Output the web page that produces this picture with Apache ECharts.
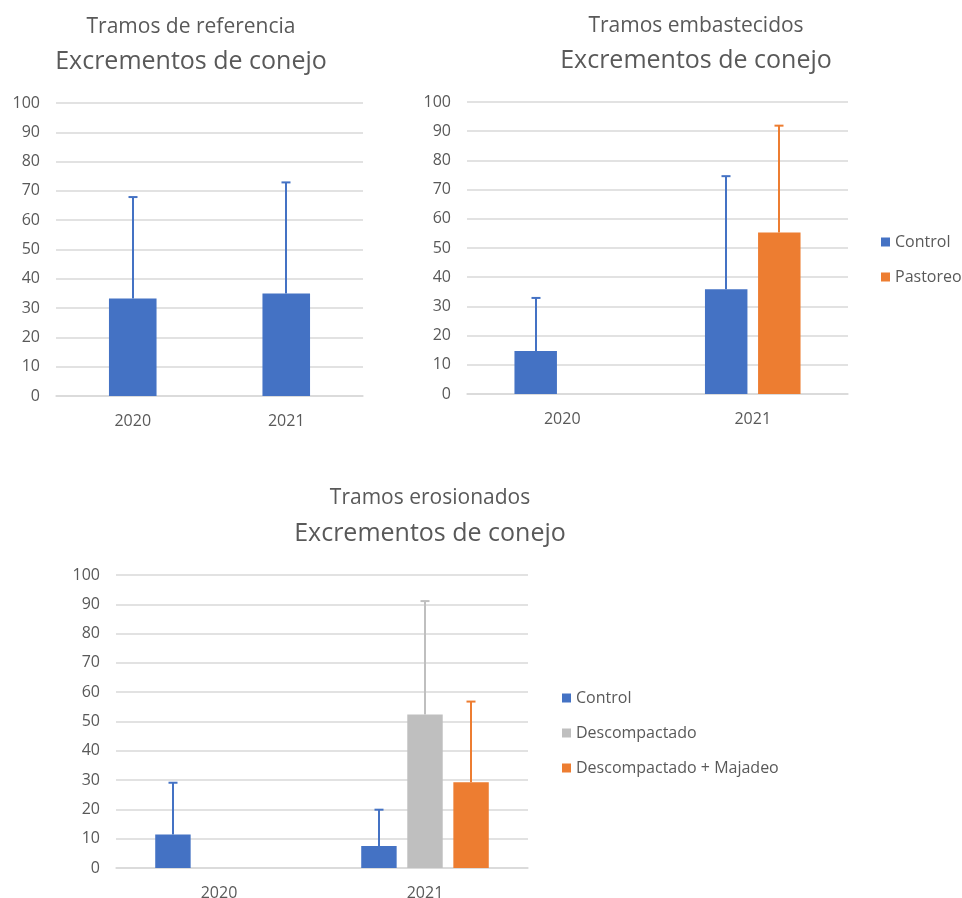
<!DOCTYPE html>
<html>
<head>
    <meta charset="utf-8">
    <title>Excrementos de conejo</title>
    <script src="https://cdn.jsdelivr.net/npm/echarts@6/dist/echarts.min.js"></script>
    <style>
        html, body { margin: 0; padding: 0; background: #fff; }
        #main { width: 962px; height: 898px; }
    </style>
</head>
<body>
<div id="main"></div>
<script type="text/javascript">
    // datos (media y barra de error superior)
    var years = ['2020', '2021'];

    // tramos de referencia
    var refControl = [33.3, 35.0];
    var refControlErr = [34.6, 37.9];

    // tramos embastecidos
    var embControl = [14.7, 35.9];
    var embControlErr = [18.2, 38.7];
    var embPastoreo = [null, 55.3];
    var embPastoreoErr = [null, 36.6];

    // tramos erosionados
    var eroControl = [11.4, 7.5];
    var eroControlErr = [17.7, 12.4];
    var eroDescomp = [null, 52.4];
    var eroDescompErr = [null, 38.7];
    var eroMajadeo = [null, 29.3];
    var eroMajadeoErr = [null, 27.5];

    var yTicks = [0, 10, 20, 30, 40, 50, 60, 70, 80, 90, 100];

    var BLUE = '#4472C4', ORANGE = '#ED7D31', GRAY = '#BFBFBF';
    var TXT = '#595959';
    var FONT = '"Open Sans", "Noto Sans", sans-serif';

    var myChart = echarts.init(document.getElementById('main'));

    function barSeries(name, values, color, idx, width, gap) {
        return {
            name: name,
            type: 'bar',
            xAxisIndex: idx,
            yAxisIndex: idx,
            barWidth: width,
            barGap: gap,
            itemStyle: { color: color },
            data: values.map(function (v) { return v == null ? '-' : v; })
        };
    }

    // barra de error: linea desde la media hasta media+error con remate arriba
    function errSeries(name, values, errs, color, idx, offset) {
        var d = [];
        values.forEach(function (v, i) {
            if (v != null) d.push([i, v, v + errs[i]]);
        });
        return {
            name: name,
            type: 'custom',
            xAxisIndex: idx,
            yAxisIndex: idx,
            z: 3,
            silent: true,
            encode: { x: 0, y: [1, 2] },
            data: d,
            renderItem: function (params, api) {
                var c = api.value(0);
                var lo = api.coord([c, api.value(1)]);
                var hi = api.coord([c, api.value(2)]);
                var band = api.size([1, 0])[0];
                var x = Math.round(lo[0] + offset * band);
                var st = { stroke: color, lineWidth: 2 };
                return {
                    type: 'group',
                    children: [
                        { type: 'line', shape: { x1: x, y1: lo[1], x2: x, y2: hi[1] }, style: st },
                        { type: 'line', shape: { x1: x - 4.5, y1: hi[1], x2: x + 4.5, y2: hi[1] }, style: st }
                    ]
                };
            }
        };
    }

    function xAx(idx) {
        return {
            type: 'category',
            gridIndex: idx,
            data: years,
            axisLine: { lineStyle: { color: '#D9D9D9', width: 1.5 } },
            axisTick: { show: false },
            axisLabel: { color: TXT, fontSize: 16, fontFamily: FONT, margin: 17 }
        };
    }

    function yAx(idx) {
        return {
            type: 'value',
            gridIndex: idx,
            min: yTicks[0],
            max: yTicks[yTicks.length - 1],
            interval: 10,
            axisLine: { show: false },
            axisTick: { show: false },
            splitLine: { lineStyle: { color: '#D9D9D9', width: 1.5 } },
            axisLabel: { color: TXT, fontSize: 16, fontFamily: FONT, margin: 16 }
        };
    }

    function ttl(text, cx, top, size) {
        return {
            text: text,
            left: cx,
            top: top,
            padding: 0,
            textAlign: 'center',
            textStyle: { color: TXT, fontSize: size, fontWeight: 'normal', fontFamily: FONT }
        };
    }

    function leg(names, left, top) {
        return {
            data: names,
            orient: 'vertical',
            left: left,
            top: top,
            icon: 'rect',
            itemWidth: 9,
            itemHeight: 9,
            itemGap: 19,
            padding: 0,
            textStyle: { color: TXT, fontSize: 16, fontFamily: FONT }
        };
    }

    var option = {
        animation: false,
        backgroundColor: '#fff',
        title: [
            ttl('Tramos de referencia', 191, 17, 21),
            ttl('Excrementos de conejo', 191, 49, 25),
            ttl('Tramos embastecidos', 696, 16, 21),
            ttl('Excrementos de conejo', 696, 48, 25),
            ttl('Tramos erosionados', 430, 488, 21),
            ttl('Excrementos de conejo', 430, 521, 25)
        ],
        legend: [
            leg(['Control', 'Pastoreo'], 881, 234),
            leg(['Control', 'Descompactado', 'Descompactado + Majadeo'], 562, 690)
        ],
        grid: [
            { left: 56, top: 103, width: 307, height: 293, outerBoundsMode: 'none' },
            { left: 467, top: 102, width: 381, height: 292, outerBoundsMode: 'none' },
            { left: 116, top: 575, width: 412, height: 293, outerBoundsMode: 'none' }
        ],
        xAxis: [xAx(0), xAx(1), xAx(2)],
        yAxis: [yAx(0), yAx(1), yAx(2)],
        series: [
            barSeries('Control', refControl, BLUE, 0, '31%', '0%'),
            errSeries('Control', refControl, refControlErr, BLUE, 0, 0),

            barSeries('Control', embControl, BLUE, 1, '22.3%', '25%'),
            barSeries('Pastoreo', embPastoreo, ORANGE, 1, '22.3%', '25%'),
            errSeries('Control', embControl, embControlErr, BLUE, 1, -0.1394),
            errSeries('Pastoreo', embPastoreo, embPastoreoErr, ORANGE, 1, 0.1394),

            barSeries('Control', eroControl, BLUE, 2, '17.2%', '30%'),
            barSeries('Descompactado', eroDescomp, GRAY, 2, '17.2%', '30%'),
            barSeries('Descompactado + Majadeo', eroMajadeo, ORANGE, 2, '17.2%', '30%'),
            errSeries('Control', eroControl, eroControlErr, BLUE, 2, -0.2236),
            errSeries('Descompactado', eroDescomp, eroDescompErr, GRAY, 2, 0),
            errSeries('Descompactado + Majadeo', eroMajadeo, eroMajadeoErr, ORANGE, 2, 0.2236)
        ]
    };

    myChart.setOption(option);
</script>
</body>
</html>
